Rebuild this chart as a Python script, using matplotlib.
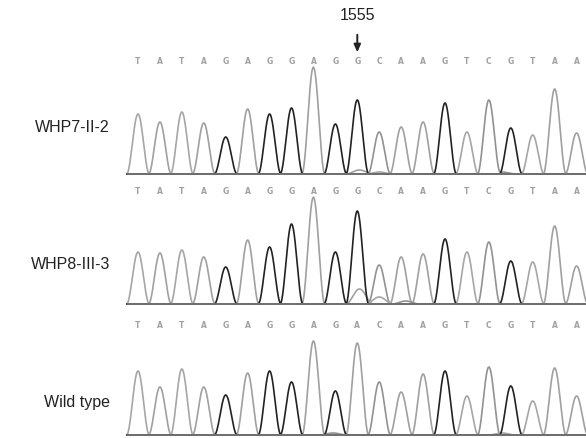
import numpy as np
import matplotlib
matplotlib.use("Agg")
import matplotlib.pyplot as plt

# ---- data ----
seq_mut = list("TATAGAGGAGGCAAGTCGTAA")
seq_wt = list("TATAGAGGAGACAAGTCGTAA")
labels = ["WHP7-II-2", "WHP8-III-3", "Wild type"]
mutation_label = "1555"
mutation_index = 10

heights_p1 = [60, 52, 62, 51, 37, 65, 60, 66, 104, 50, 74, 42, 47, 52, 71, 42, 74, 46, 39, 85, 41]
heights_p2 = [52, 51, 54, 47, 37, 64, 57, 80, 104, 52, 93, 39, 47, 50, 65, 52, 62, 43, 42, 78, 38]
heights_p3 = [64, 48, 66, 48, 40, 62, 64, 53, 94, 44, 92, 53, 43, 61, 64, 39, 68, 49, 34, 67, 39]

# minor (secondary) peaks: (base, position, height)
minor_p1 = [("A", 7.9, 3), ("A", 10.1, 4), ("T", 11.0, 2), ("C", 16.6, 2)]
minor_p2 = [("A", 7.9, 3), ("A", 10.1, 15), ("T", 11.0, 7), ("C", 12.2, 3)]
minor_p3 = [("C", 8.9, 2), ("T", 16.6, 2)]

panels = [
    (seq_mut, heights_p1, minor_p1, labels[0]),
    (seq_mut, heights_p2, minor_p2, labels[1]),
    (seq_wt, heights_p3, minor_p3, labels[2]),
]

# ---- layout (pixel geometry) ----
W, H = 586, 439
x0_px, step_px = 138.0, 21.93
baselines = [175, 305, 436]
letter_y = [62, 192, 326]
label_y = [128, 265, 403]
half_w = 0.52

colors = {"A": "#a0a0a0", "C": "#929292", "T": "#a6a6a6", "G": "#222222"}


def peak(x, c, h, w):
    d = np.abs(x - c)
    y = np.where(d < w, np.cos(np.pi * d / (2 * w)) ** 2, 0.0)
    return h * y


fig = plt.figure(figsize=(W / 100, H / 100), dpi=100)
ax = fig.add_axes([0, 0, 1, 1])
ax.set_xlim(-x0_px / step_px, (W - x0_px) / step_px)
ax.set_ylim(H, 0)
ax.axis("off")

x = np.linspace(-0.5, 20.6, 3000)

for p, (seq, hts, minors, lab) in enumerate(panels):
    yb = baselines[p]
    ax.plot([-0.47, 20.6], [yb, yb], color="#707070", lw=1.4, zorder=4)
    for base in ["A", "C", "T", "G"]:
        tr = np.zeros_like(x)
        for i, (b, h) in enumerate(zip(seq, hts)):
            if b == base:
                tr += peak(x, i, h, half_w)
        for b, pos, h in minors:
            if b == base:
                tr += peak(x, pos, h, half_w * 1.2)
        ax.plot(x, yb - tr, color=colors[base], lw=1.2,
                zorder=3 if base == "G" else 2, solid_joinstyle="round")
    for i, b in enumerate(seq):
        ax.text(i, letter_y[p], b, ha="center", va="center", fontsize=5.5,
                fontweight="bold", color="#a0a0a0", family="DejaVu Sans")
    fig.text(110 / W, 1 - label_y[p] / H, lab, ha="right", va="center",
             fontsize=11.5, family="Liberation Sans", color="#222222")

ax.text(mutation_index, 15, mutation_label, ha="center", va="center",
        fontsize=11.5, family="Liberation Sans", color="#222222")
ax.annotate("", xy=(mutation_index, 56), xytext=(mutation_index, 33),
            arrowprops=dict(arrowstyle="-|>,head_width=0.2,head_length=0.45",
                            color="#222222", lw=1.4))

fig.savefig("out.png", dpi=100)
